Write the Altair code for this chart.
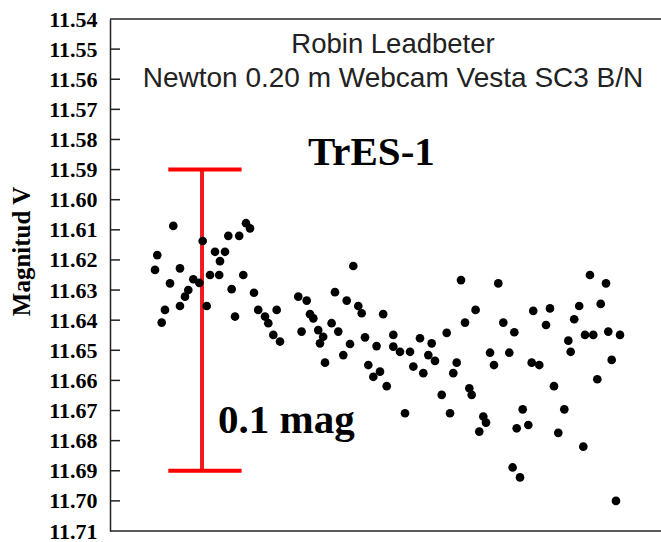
import altair as alt
import pandas as pd

x_vals = [11.49, 8.58, 8.17, 12.70, 10.89, 16.82, 15.12, 16.21, 14.21, 13.61,
          12.70, 9.98, 9.38, 17.55, 19.06, 20.87, 19.96, 18.15, 19.82, 21.47,
          23.45, 24.68, 25.41, 24.19, 22.08, 26.13, 22.69, 26.90, 28.13, 30.25,
          28.73, 29.64, 30.85, 44.16, 34.17, 35.70, 40.83, 42.96, 45.06, 45.68,
          49.58, 36.30, 36.90, 34.77, 37.79, 40.22, 38.69, 41.43, 38.11, 43.56,
          46.28, 48.38, 39.02, 42.34, 46.88, 49.00, 47.79, 50.22, 51.42, 51.42,
          63.70, 70.47, 87.11, 90.02, 66.35, 64.43, 61.11, 76.81, 79.85, 79.13,
          85.15, 89.06, 84.25, 71.38, 73.38, 56.26, 58.38, 52.63, 54.45, 57.77,
          58.98, 62.92, 62.30, 55.05, 56.86, 60.20, 65.21, 65.64, 68.97, 69.69,
          72.47, 76.53, 77.91, 83.18, 83.61, 86.21, 87.71, 90.43, 92.56, 91.05,
          88.44, 80.58, 53.54, 61.71, 67.75, 68.24, 67.02, 74.90, 73.81, 75.92,
          82.45, 81.36, 85.90, 73.07, 74.41, 91.83]
mag_vals = [11.6087, 11.6184, 11.6233, 11.6228, 11.6278, 11.6137, 11.6264, 11.6276, 11.6300, 11.6322,
            11.6353, 11.6366, 11.6408, 11.6353, 11.6173, 11.6173, 11.6204, 11.6250, 11.6250, 11.6120,
            11.6120, 11.6078, 11.6095, 11.6250, 11.6297, 11.6309, 11.6388, 11.6366, 11.6388, 11.6366,
            11.6410, 11.6449, 11.6471, 11.6220, 11.6322, 11.6335, 11.6307, 11.6335, 11.6353, 11.6377,
            11.6380, 11.6380, 11.6394, 11.6438, 11.6433, 11.6410, 11.6455, 11.6438, 11.6477, 11.6479,
            11.6457, 11.6486, 11.6541, 11.6516, 11.6549, 11.6571, 11.6588, 11.6619, 11.6449, 11.6488,
            11.6267, 11.6278, 11.6250, 11.6278, 11.6366, 11.6408, 11.6442, 11.6369, 11.6361, 11.6416,
            11.6353, 11.6346, 11.6397, 11.6408, 11.6440, 11.6460, 11.6477, 11.6505, 11.6505, 11.6516,
            11.6535, 11.6541, 11.6576, 11.6554, 11.6576, 11.6648, 11.6626, 11.6648, 11.6508, 11.6549,
            11.6508, 11.6541, 11.6549, 11.6468, 11.6505, 11.6449, 11.6449, 11.6438, 11.6449, 11.6532,
            11.6596, 11.6619, 11.6709, 11.6709, 11.6720, 11.6740, 11.6770, 11.6696, 11.6759, 11.6748,
            11.6696, 11.6774, 11.6820, 11.6889, 11.6922, 11.7000]

tick_labels = [round(11.54 + 0.01 * i, 2) for i in range(18)]
inner_ticks = tick_labels[1:-1]

# scale bar: 0.1 mag
bar_top, bar_bottom = 11.59, 11.69
bar_x, cap_x0, cap_x1 = 16.70, 10.58, 23.88

W, H = 551, 512
df = pd.DataFrame({"t": x_vals, "mag": mag_vals})
ticks_df = pd.DataFrame({"mag": inner_ticks})

xs = alt.Scale(domain=[0, 100], nice=False, zero=False)
ys = alt.Scale(domain=[11.54, 11.71], reverse=True, nice=False, zero=False)

y_axis = alt.Axis(
    values=tick_labels, format=".2f", grid=False, ticks=False,
    labelFont="Liberation Serif", labelFontWeight="bold", labelFontSize=22,
    labelColor="black", labelPadding=13,
    domainColor="#222222", domainWidth=1.5,
    title="Magnitud V", titleFont="Liberation Serif", titleFontWeight="bold",
    titleFontSize=25, titleColor="black", titlePadding=14, titleY=232)

points = alt.Chart(df).mark_circle(size=75, color="black", opacity=1).encode(
    x=alt.X("t:Q", scale=xs, axis=None),
    y=alt.Y("mag:Q", scale=ys, axis=y_axis),
)

tick_marks = alt.Chart(ticks_df).mark_rule(color="#222222", strokeWidth=1.5).encode(
    y=alt.Y("mag:Q", scale=ys, axis=y_axis), x=alt.value(0), x2=alt.value(10))

frame_df = pd.DataFrame({"mag": [11.54, 11.71], "xa": [0, 0], "xb": [100, 100]})
frame = alt.Chart(frame_df).mark_rule(color="#222222", strokeWidth=1.5).encode(
    x=alt.X("xa:Q", scale=xs, axis=None), x2="xb:Q",
    y=alt.Y("mag:Q", scale=ys, axis=y_axis))

bar_df = pd.DataFrame({"bx": [bar_x], "mag": [bar_top], "yb": [bar_bottom]})
vbar = alt.Chart(bar_df).mark_rule(color="#f01a22", strokeWidth=4).encode(
    x=alt.X("bx:Q", scale=xs, axis=None),
    y=alt.Y("mag:Q", scale=ys, axis=y_axis), y2="yb:Q")
caps_df = pd.DataFrame({"xa": [cap_x0, cap_x0], "xb": [cap_x1, cap_x1], "mag": [bar_top, bar_bottom]})
caps = alt.Chart(caps_df).mark_rule(color="#ff0000", strokeWidth=4).encode(
    x=alt.X("xa:Q", scale=xs, axis=None), x2="xb:Q",
    y=alt.Y("mag:Q", scale=ys, axis=y_axis))

one = pd.DataFrame({"k": [0]})
title1 = alt.Chart(one).mark_text(
    text="Robin Leadbeter", font="Liberation Sans", fontSize=27.5, color="#222222",
    align="center", baseline="alphabetic").encode(x=alt.value(283), y=alt.value(34))
title2 = alt.Chart(one).mark_text(
    text="Newton 0.20 m Webcam Vesta SC3 B/N", font="Liberation Sans", fontSize=28,
    color="#222222", align="center", baseline="alphabetic").encode(x=alt.value(283), y=alt.value(68))
star = alt.Chart(one).mark_text(
    text="TrES-1", font="Liberation Serif", fontWeight="bold", fontSize=41,
    color="black", align="left", baseline="alphabetic").encode(x=alt.value(198), y=alt.value(146))
magtxt = alt.Chart(one).mark_text(
    text="0.1 mag", font="Liberation Serif", fontWeight="bold", fontSize=41,
    color="black", align="left", baseline="alphabetic").encode(x=alt.value(108), y=alt.value(414))

chart = alt.layer(
    frame, tick_marks, vbar, caps, points, title1, title2, star, magtxt
).properties(
    width=W, height=H,
    autosize=alt.AutoSizeParams(type="none"),
    padding={"left": 110, "top": 19, "right": 0, "bottom": 11},
).configure_view(strokeWidth=0)

chart.save("out.html", embed_options={"renderer": "svg", "actions": False})
